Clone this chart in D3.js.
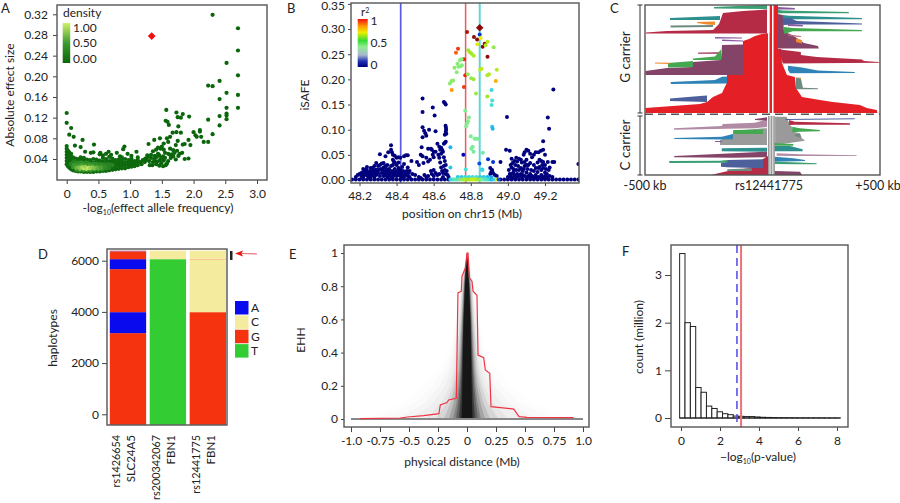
<!DOCTYPE html>
<html>
<head>
<meta charset="utf-8">
<script src="https://cdnjs.cloudflare.com/ajax/libs/d3/7.8.5/d3.min.js"></script>
<style>
html, body { margin: 0; padding: 0; background: #fff; overflow: hidden; }
text { font-family: Lato, sans-serif; fill: #222; }
</style>
</head>
<body>
<div id="chart-area"></div>
<script>
// ---- panel A: effect size vs allele frequency
var aTicksX = [0, 0.5, 1.0, 1.5, 2.0, 2.5, 3.0];
var aTicksY = [0.04, 0.08, 0.12, 0.16, 0.20, 0.24, 0.28, 0.32];
var aOutlier = [1.34, 0.278];
var aSparse = [[2.30,.319],[2.70,.293],[2.70,.25],[2.52,.226],[2.70,.202],[2.41,.191],[2.23,.182],[2.30,.181],[2.52,.168],[2.70,.164],[2.41,.156],[2.52,.139],[2.70,.139],[2.52,.128],[2.52,.124],[2.52,.117],[2.41,.123],[2.23,.116],[2.41,.105],[2.30,.088],
[1.57,.135],[1.56,.114],[1.59,.112],[1.61,.106],[1.73,.13],[1.93,.122],[1.83,.127],[1.75,.121],[1.80,.12],[1.76,.103],[1.73,.092],[1.67,.091],[1.63,.083],[1.58,.08],[1.80,.091],[2.0,.092],[2.1,.096],[2.1,.093],[2.03,.086],[2.05,.083],[2.12,.083],[2.16,.073],[2.23,.073],[1.92,.077],[1.86,.069],[1.83,.068],[1.95,.067],[1.75,.075],[1.72,.067],[1.68,.057],[1.63,.06],[1.60,.073],[1.53,.07],[1.47,.08],[1.38,.077],[1.29,.069],[1.72,.039],[1.86,.04],[1.92,.041],
[1.50,.064],[1.48,.06],[1.44,.062],[1.41,.058],[1.36,.055],[1.55,.052],[1.60,.05],[1.66,.049],[1.70,.052],[1.74,.056],[1.78,.05],[1.52,.045],[1.46,.047],[1.42,.044],[1.33,.048],[1.28,.044],[1.24,.041],[1.38,.04],[1.47,.038],[1.53,.037],[1.60,.036],[1.64,.042],[1.30,.036],[1.36,.034],[1.41,.03],[1.46,.027],[1.52,.026],[1.58,.031],[1.35,.028],[1.43,.035],[1.20,.038],[1.16,.034],[1.10,.054],
[1.18,.03],[1.23,.034],[1.26,.038],[1.33,.042],[1.39,.046],[1.44,.05],[1.49,.042],[1.55,.042],[1.40,.036],[1.49,.032],[1.27,.047],[1.31,.028],[1.56,.028],[1.63,.048],[1.68,.045],[1.76,.046],[1.82,.052],[1.53,.058],
[0,.129],[0,.11],[.07,.10],[.04,.087],[.11,.083],[.25,.077],[.22,.063],[.43,.068],[.91,.064],[.89,.059],[.79,.052],[.66,.054],[.62,.05],[.53,.052],[.42,.053],[.38,.052],[.29,.054],[.13,.066],[.52,.049],[.57,.047],[.70,.048],[.84,.045],[.96,.05],[1.02,.046]];
var aBandX = [0,.02,.04,.07,.10,.14,.18,.22,.27,.32,.37,.42,.47,.52,.57,.62,.67,.72,.77,.82,.87,.92,.97,1.02,1.07,1.12];
var aBandY = [
[.030,.036,.042,.048,.054,.060,.065],[.026,.032,.038,.044,.050,.056],[.023,.029,.035,.041,.047,.053],[.020,.026,.032,.038,.044,.050],[.018,.024,.030,.036,.043],[.017,.023,.029,.035,.041],[.016,.022,.028,.034,.040],[.016,.022,.028,.034,.040,.043],[.015,.021,.027,.033,.039,.042],[.015,.021,.027,.033,.039],[.015,.021,.027,.033,.038],[.015,.021,.027,.033,.040],[.016,.022,.028,.034,.039],[.016,.022,.028,.034,.037],[.017,.023,.029,.035,.042],[.017,.023,.029,.035,.040],[.018,.024,.030,.036,.044],[.019,.025,.031,.037,.041],[.020,.026,.032,.038],[.021,.027,.033,.039],[.022,.027,.032,.037,.043],[.022,.028,.033,.040],[.024,.029,.034,.038],[.025,.030,.035,.041],[.026,.031,.036],[.028,.033,.038,.043]];
var aMidPoints = [[.06,.030,.3],[.09,.033,.3],[.12,.030,.4],[.12,.036,.25],[.17,.033,.35],[.22,.033,.4],[.27,.032,.4],[.31,.033,.35],[.36,.031,.4],[.42,.031,.4],[.47,.031,.35],[.53,.030,.35],[.58,.029,.35],[.63,.029,.3],[.67,.029,.3],[.72,.028,.3],[.10,.024,.45],[.15,.019,.4],[.20,.018,.4],[.26,.018,.45],[.32,.018,.45],[.38,.018,.45],[.44,.019,.4],[.50,.019,.4],[.56,.020,.4],[.62,.022,.35],[.67,.023,.3],[.12,.028,.5],[.18,.028,.5],[.24,.028,.55],[.30,.028,.5],[.36,.027,.55],[.42,.027,.5],[.48,.026,.5],[.54,.026,.45],[.60,.025,.4]];
var aLightPoints = [[.15,.023,.65],[.19,.024,.7],[.21,.021,.75],[.24,.024,.85],[.27,.022,.95],[.29,.025,.8],[.31,.021,.9],[.34,.023,.95],[.37,.022,.85],[.40,.024,.8],[.43,.022,.75],[.46,.023,.7],[.50,.022,.6],[.54,.023,.55]];
var aDensityTicks = [[1, "1.00"], [0.5, "0.50"], [0, "0.00"]];

// ---- panel B: iSAFE along chr15
var bTicksX = [48.2, 48.4, 48.6, 48.8, 49.0, 49.2];
var bTicksY = [0, 0.05, 0.10, 0.15, 0.20, 0.25, 0.30, 0.35];
var bVLines = [[48.422, "#5a5ae6", 1.7], [48.772, "#f05a5a", 1.5], [48.848, "#62d6d6", 2]];
var bLead = [48.848, 0.3026];
// [position, iSAFE, r2]
var bLinked = [[48.78,.294,.98],[48.848,.289,.1],[48.817,.284,1],[48.834,.279,1],[48.875,.271,1],[48.864,.265,1],[48.89,.245,1],[48.731,.261,.93],[48.72,.253,.9],[48.763,.24,.95],[48.77,.208,.95],[48.763,.185,.93],[48.697,.179,.85],[48.935,.197,.82],[48.853,.282,.72],[48.835,.27,.68],[48.89,.275,.6],[48.88,.268,.6],[48.923,.264,.5],
[48.75,.24,.45],[48.741,.238,.45],[48.728,.231,.45],[48.712,.223,.48],[48.733,.225,.45],[48.745,.226,.45],[48.752,.228,.45],[48.724,.214,.45],[48.705,.198,.47],[48.687,.192,.47],[48.696,.197,.47],[48.786,.258,.55],[48.795,.254,.55],[48.804,.251,.55],[48.816,.247,.58],[48.85,.219,.62],[48.858,.221,.62],[48.889,.208,.58],[48.898,.21,.58],[48.94,.219,.6],[48.784,.21,.5],[48.802,.202,.5],[48.815,.2,.55],[48.828,.172,.52],[48.889,.166,.55],[48.912,.179,.24],[48.915,.158,.25],[48.912,.149,.25],[48.915,.106,.22],[48.918,.102,.2],[48.77,.138,.42],[48.79,.124,.42],[48.785,.117,.44],[48.78,.113,.42],[48.775,.107,.42],[48.8,.087,.4],[48.82,.082,.42],[48.83,.082,.42],[48.84,.082,.4],[48.81,.066,.4],[48.803,.062,.4],[48.815,.056,.4],[48.865,.054,.38],
[48.69,.065,.2],[48.69,.025,.22],[48.773,.021,.25],[48.861,.021,.22],[48.863,.02,.24],[48.846,.033,.12],[48.893,.041,.1],[48.92,.036,.1],[48.76,.05,.06]];
// [position, iSAFE], all close to r2 = 0
var bUnlinked = [[48.54,.162],[48.54,.135],[48.595,.144],[48.605,.128],[48.655,.155],[48.66,.153],[48.665,.15],[48.54,.105],[48.555,.093],[48.54,.085],[48.575,.1],[48.61,.097],[48.664,.108],[48.666,.104],[48.667,.1],[48.665,.096],[48.668,.092],[48.66,.09],[48.548,.098],[48.56,.088],
[48.535,.065],[48.53,.05],[48.57,.062],[48.585,.062],[48.59,.06],[48.635,.06],[48.65,.056],[48.625,.05],[48.6,.045],[48.58,.04],[48.57,.037],[48.66,.074],[48.665,.076],[48.655,.072],[48.63,.044],[48.635,.035],[48.64,.025],[48.655,.028],[48.6,.02],[48.585,.018],[48.56,.044],[48.54,.047],[48.545,.034],[48.62,.072],[48.63,.066],[48.64,.064],[48.645,.06],[48.655,.045],[48.66,.038],[48.665,.03],[48.64,.052],[48.61,.056],[48.6,.056],[48.595,.05],[48.65,.014],[48.665,.012],[48.63,.012],[48.62,.01],[48.6,.008],[48.57,.008],[48.55,.01],[48.52,.006],[48.67,.018],[48.675,.01],[48.66,.02],[48.645,.018],[48.61,.014],[48.59,.012],[48.56,.006],[48.53,.004],[48.65,.006],[48.68,.006],
[48.37,.069],[48.31,.051],[48.34,.047],[48.355,.055],[48.37,.06],[48.375,.055],[48.38,.05],[48.39,.048],[48.40,.044],[48.41,.045],[48.42,.044],[48.44,.047],[48.45,.049],[48.46,.049],[48.38,.04],[48.385,.037],[48.39,.035],[48.48,.038],[48.51,.036],[48.52,.03],[48.44,.032],[48.46,.025],[48.47,.018],[48.485,.012],[48.50,.01],
[48.2,.012],[48.21,.008],[48.22,.016],[48.23,.02],[48.24,.026],[48.25,.012],[48.26,.006],[48.26,.018],[48.27,.024],[48.28,.014],[48.29,.02],[48.30,.028],[48.31,.03],[48.32,.033],[48.33,.025],[48.34,.018],[48.35,.012],[48.36,.022],[48.37,.028],[48.38,.012],[48.39,.022],[48.40,.016],[48.41,.024],[48.42,.02],[48.43,.01],[48.44,.016],[48.45,.012],[48.46,.008],[48.47,.006],[48.18,.006],[48.19,.01],[48.22,.006],[48.23,.01],[48.24,.014],[48.25,.006],[48.27,.01],[48.28,.006],[48.29,.01],[48.30,.014],[48.31,.008],[48.32,.014],[48.33,.008],[48.34,.01],[48.35,.006],[48.36,.01],[48.37,.006],[48.38,.006],[48.39,.01],[48.40,.008],[48.41,.01],[48.42,.008],[48.43,.004],[48.44,.006],[48.24,.02],[48.21,.014],[48.28,.028],[48.29,.034],[48.34,.028],[48.33,.034],
[48.215,.004],[48.225,.012],[48.235,.016],[48.245,.008],[48.255,.016],[48.265,.012],[48.275,.018],[48.285,.02],[48.295,.014],[48.305,.02],[48.315,.022],[48.325,.02],[48.335,.014],[48.345,.022],[48.355,.018],[48.365,.014],[48.375,.018],[48.385,.016],[48.395,.012],[48.405,.018],[48.415,.014],[48.425,.014],[48.435,.018],[48.445,.01],[48.455,.018],[48.465,.014],[48.35,.03],[48.38,.03],[48.40,.03],[48.41,.035],[48.43,.026],[48.3,.02],[48.26,.024],[48.22,.022],
[49.245,.18],[48.995,.125],[49.215,.124],[49.222,.102],[49.19,.077],[49.19,.06],[49.178,.058],[49.165,.055],[49.15,.055],[49.14,.05],[49.2,.05],[49.1,.06],[49.11,.058],[49.09,.055],[49.12,.052],[49.13,.045],[49.085,.05],[48.99,.06],[49.01,.058],[49.02,.042],[49.035,.038],[49.05,.037],[49.06,.042],[49.07,.04],[49.075,.035],[49.09,.036],[49.1,.04],[49.11,.03],[49.14,.03],[49.16,.035],[49.17,.04],[49.18,.038],[49.19,.036],[49.2,.03],[49.215,.036],[49.24,.036],[49.25,.036],[49.015,.03],[49.02,.025],[49.03,.022],[49.04,.03],[49.055,.028],[49.06,.02],[49.07,.024],[49.085,.022],[49.09,.028],[49.1,.015],[49.12,.012],[49.14,.018],[49.15,.024],[49.16,.016],[49.17,.026],[49.18,.02],[49.19,.024],[49.2,.015],[49.21,.012],[49.22,.02],[49.005,.02],[49.01,.012],[49.02,.012],[49.035,.01],[49.05,.012],[49.07,.012],[49.08,.01],[49.11,.008],[49.13,.008],[49.15,.01],[49.18,.01],[49.2,.008],[49.225,.008],[49.24,.006],[48.905,.012],[48.91,.016],[48.915,.02],[48.92,.014],[48.94,.008],[48.96,.036],[48.905,.024],[48.93,.01],[49.38,.032],
[49.0,.006],[49.015,.006],[49.03,.005],[49.045,.006],[49.06,.008],[49.075,.006],[49.09,.008],[49.105,.006],[49.12,.006],[49.135,.006],[49.15,.005],[49.165,.006],[49.18,.005],[49.195,.005],[49.21,.005],[49.03,.016],[49.045,.02],[49.08,.018],[49.105,.022],[49.125,.02],[49.165,.024],[49.205,.022],[49.225,.025],[49.025,.034],[49.045,.044],[49.1,.03],[49.12,.034],[49.185,.03]];
var bBaseline = [48.16,48.18,48.2,48.22,48.24,48.26,48.28,48.3,48.32,48.34,48.36,48.38,48.4,48.42,48.44,48.46,48.48,48.5,48.52,48.54,48.56,48.58,48.6,48.62,48.64,48.66,48.68,48.96,48.98,49.0,49.02,49.04,49.06,49.08,49.1,49.12,49.14,49.16,49.18,49.2,49.22,49.24,49.26,49.28,49.3,49.32,49.34,49.36,49.38];
var bStripX = [48.69,48.70,48.71,48.72,48.73,48.74,48.75,48.76,48.77,48.78,48.79,48.80,48.81,48.82,48.83,48.84,48.85,48.86,48.87,48.88,48.89,48.90,48.91,48.92,48.93,48.94,48.95];
var bStripR = [.22,.25,.3,.35,.3,.4,.5,.5,.6,.55,.55,.6,.65,.65,.6,.55,.5,.42,.38,.3,.28,.25,.2,.22,.24,.7,.12];
var bStripTopX = [48.73,48.75,48.77,48.79,48.81,48.83,48.85,48.87,48.89,48.91];
var bStripTopR = [.22,.22,.24,.24,.25,.25,.22,.22,.2,.18];
var bLegendStops = [[0,"#00007f"],[.12,"#2030b0"],[.25,"#a8b8d0"],[.42,"#90ec90"],[.55,"#33dd33"],[.72,"#eeee00"],[.85,"#ff9a00"],[1,"#ee1111"]];
var bLegendTicks = [[1, "1"], [0.5, "0.5"], [0, "0"]];

// ---- panel C: haplotype bifurcation, vertices are [kb from rs12441775, haplotype rank]
var cRed = "#e41f26", cCrimson = "#b52b45", cPlum = "#844468", cTeal = "#2e8f8f", cGreen = "#44a851", cSea = "#3a9f72", cBlue = "#2f83b6", cSlate = "#4e609c", cOrange = "#f28a2c", cPurple = "#8a5aa0", cGrey = "#9a9a9a", cMauve = "#b18ba5", cMoss = "#6f8a80", cRose = "#b5647c";
var cCarrierSplit = 109.3;
var cShapes = [
[cRed,[[0,28],[-32,29],[-60,31],[-84,34],[-108,36],[-109,70],[-172,70],[-173,78],[-192,88],[-228,92],[-252,97],[-280,99],[-498,103],[-498,108],[0,108]]],
[cRed,[[0,0],[36,0],[36,44],[50,44],[54,58],[76,70],[112,72],[117,83],[144,92],[225,95],[283,97],[405,100],[436,103],[481,105],[484,108],[0,108]]],
[cCrimson,[[-12,4.5],[-108,6],[-188,8],[-204,19],[-228,25],[-412,26],[-496,27.5],[-496,28.5],[-12,28.5]]],
[cSea,[[-224,2],[-84,.5],[-12,0],[-12,4],[-224,3.5]]],
[cTeal,[[-400,13],[-200,11],[-200,15],[-400,15]]],
[cMoss,[[-398,20.5],[-228,20],[-228,22],[-398,22.5]]],
[cOrange,[[-292,17],[-220,16.5],[-220,20],[-252,19.5],[-292,18]]],
[cPlum,[[-108,39.5],[-192,40],[-196,55],[-308,57],[-308,62],[-412,63],[-498,66],[-498,70],[-108,70]]],
[cPurple,[[-220,32],[-112,32.5],[-112,33.5],[-220,33.5]]],
[cPurple,[[-192,34.5],[-108,35.5],[-108,36.5],[-192,36]]],
[cRose,[[-288,47.5],[-200,47],[-200,49],[-288,49]]],
[cGreen,[[-308,53.5],[-220,51.5],[-196,44.5],[-196,55],[-308,55]]],
[cGreen,[[-408,58],[-308,56],[-308,62],[-408,62.5]]],
[cOrange,[[-460,57.5],[-404,57.7],[-404,59],[-460,58.5]]],
[cBlue,[[-397,77],[-220,75],[-192,71.7],[-172,71.5],[-172,78.5],[-397,79]]],
[cSlate,[[-400,93.5],[-280,91],[-252,90.5],[-252,97],[-400,96]]],
[cPurple,[[36,2],[112,3],[112,4.5],[36,4.5]]],
[cSea,[[36,4.5],[54,5.5],[355,7],[355,8.3],[36,8.3]]],
[cPlum,[[36,9],[58,10],[63,27],[90,29],[121,33],[153,38],[216,41],[220,43.5],[36,43.5]]],
[cTeal,[[58,10],[85,10.7],[414,13],[414,14.3],[85,14.3],[58,13]]],
[cSlate,[[58,13],[90,13],[121,16],[414,18.5],[414,19.5],[121,19.5],[58,20]]],
[cPurple,[[81,19],[148,20],[148,21.5],[81,21]]],
[cGreen,[[63,22],[103,23],[414,25],[414,26.3],[103,26.3],[63,29]]],
[cRose,[[81,29.5],[139,31],[139,32],[81,31]]],
[cOrange,[[117,33.5],[144,35],[144,38.5],[117,37]]],
[cCrimson,[[36,44],[63,45],[139,47],[139,50],[211,52],[414,54.5],[423,56],[490,57],[495,57.7],[58,58.5]]],
[cBlue,[[81,60.7],[144,62.5],[216,65.5],[382,67],[382,68],[90,68.3],[81,65]]],
[cMoss,[[117,72.5],[139,73],[148,82.7],[216,83.3],[216,84.3],[117,84.3]]],
[cOrange,[[126,72.7],[139,72.7],[139,74.5]]],
[cGrey,[[-12,112],[-12,140],[-200,140],[-200,135],[-148,130],[-148,126],[-12,123]]],
[cMauve,[[-384,123.3],[-193,121],[-189,119],[-60,117.7],[-12,114.3],[-12,122],[-60,123.3],[-384,124.7]]],
[cGreen,[[-147,125],[-28,124.5],[-28,129],[-147,129]]],
[cBlue,[[-383,133],[-193,131.7],[-148,129],[-148,134.3],[-196,134.5],[-383,134]]],
[cPurple,[[-220,136],[-191,136],[-191,137],[-220,137]]],
[cPlum,[[-60,114],[-12,112.3],[-12,115.6],[-60,115]]],
[cTeal,[[-193,143.3],[-12,142.7],[-12,146.7],[-193,146.3]]],
[cPlum,[[-383,151],[-147,148.3],[-12,146.7],[-12,152.3],[-148,152.7],[-383,152.3]]],
[cSea,[[-403,156],[-200,155.7],[-171,155],[-171,157.7],[-403,158]]],
[cCrimson,[[-237,170],[-168,166],[-80,163],[-28,154],[-8,151],[-8,170]]],
[cSlate,[[-171,155],[-27,154.3],[-27,163.3],[-171,162.3],[-196,161.7],[-196,158],[-172,157.3]]],
[cMoss,[[-171,164.3],[-73,163.3],[-73,166],[-171,166]]],
[cGrey,[[23,111.7],[75,111.7],[90,120],[99,122],[104,126.7],[135,128.3],[143,133],[158,135.7],[23,140]]],
[cSlate,[[68,114],[382,113.3],[382,114.3],[72,115]]],
[cCrimson,[[86,115],[112,116.7],[360,118.3],[360,119.7],[112,119.7],[86,120]]],
[cGreen,[[100,121.7],[135,123.3],[225,125],[225,126.3],[135,126.7],[100,127.3]]],
[cMoss,[[112,129],[135,129],[140,132.7],[112,131]]],
[cGreen,[[15,137.3],[30,138.3],[105,139],[105,140.7],[15,140.7]]],
[cTeal,[[18,141],[90,141],[147,144.3],[147,146.3],[18,146.3]]],
[cMauve,[[30,148.3],[135,149.3],[390,150.3],[390,151],[135,151],[30,150.7]]],
[cBlue,[[20,151.7],[104,153.3],[158,155],[158,156],[20,156.7]]],
[cSea,[[20,156.7],[104,157.3],[210,158.3],[210,159.3],[104,159.3],[20,159]]],
[cPlum,[[15,161.7],[22,166],[135,166.7],[145,170],[15,170]]],
[cCrimson,[[15,166],[15,170],[0,170],[0,166]]]
];
// centre stripes: [kb from, kb to, rank from, rank to, colour]
var cCentre = [[-2,9,0,108,cRed],[-8,-2,0,108,"#fff"],[9,16,0,108,"#fff"],[-8,22,111,170,cGrey],[-2,3,111,170,"#e6e6e6"],[10,15,111,170,"#e6e6e6"]];

// ---- panel D: allele composition
var dTicks = [0, 2000, 4000, 6000];
var dFloor = -410;
var dBars = [
  ["rs1426654", "SLC24A5", [["G",3170],["A",3990],["G",5670],["A",6060],["G",6360],["X",6390]]],
  ["rs200342067", "FBN1", [["T",6060],["C",6390]]],
  ["rs12441775", "FBN1", [["G",3990],["C",6030],["Y",6075],["C",6390]]]
];
var dAlleles = ["A", "C", "G", "T"];
var dColours = {A:"#0a0aee", C:"#f5eb9e", G:"#f5330f", T:"#33cc33", X:"#a03a70", Y:"#f8c088"};

// ---- panel E: EHH decay
var eTicksX = [-1, -0.75, -0.5, -0.25, 0, 0.25, 0.5, 0.75, 1];
var eTickLabels = ["-1.0", "-0.75", "-0.5", "0.25", "0", "0.25", "0.5", "0.75", "1.0"];
var eTicksY = [0, 0.2, 0.4, 0.6, 0.8, 1];
var eRed = [[-.92,.002],[-.575,.006],[-.512,.012],[-.374,.02],[-.288,.028],[-.242,.032],[-.23,.085],[-.173,.099],[-.158,.115],[-.092,.125],[-.086,.397],[-.078,.76],[-.049,.77],[-.043,.86],[-.014,.91],[0,1],[.009,1],[.02,.85],[.043,.83],[.052,.77],[.086,.745],[.095,.385],[.144,.37],[.158,.295],[.196,.275],[.207,.074],[.288,.068],[.403,.06],[.449,.014],[.518,.01],[.92,.008]];
var eLevels = [1, .9, .8, .6, .4, .3, .2, .1, .05, 0];
// half width (Mb) of each group of background SNP curves at eLevels, with its weight
var eHaze = [
  [.008,[0,.035,.06,.1,.16,.25,.38,.55,.72,.9]],
  [.012,[0,.03,.055,.09,.14,.2,.3,.45,.6,.8]],
  [.018,[0,.03,.05,.08,.12,.16,.24,.36,.48,.62]],
  [.025,[0,.03,.05,.075,.105,.135,.19,.29,.38,.5]],
  [.04,[0,.026,.045,.065,.09,.11,.15,.22,.29,.36]],
  [.07,[0,.022,.04,.06,.08,.095,.125,.175,.225,.27]],
  [.11,[0,.02,.035,.05,.07,.08,.105,.14,.17,.2]],
  [.16,[0,.018,.03,.045,.06,.07,.085,.115,.135,.155]],
  [.22,[0,.016,.026,.04,.052,.06,.072,.09,.105,.12]],
  [.3,[0,.014,.024,.035,.046,.052,.062,.075,.085,.095]],
  [.5,[0,.012,.02,.031,.04,.044,.05,.058,.064,.07]],
  [.88,[0,.008,.017,.029,.035,.037,.04,.043,.045,.047]]
];

// ---- panel F: histogram of p-values
var fTicksX = [0, 2, 4, 6, 8];
var fTicksY = [0, 1, 2, 3];
var fBinStart = -0.07, fBinWidth = 0.275;
var fCounts = [3.45, 2.0, 1.92, 0.64, 0.54, 0.25, 0.2, 0.13, 0.09, 0.07, 0.04, 0.035, 0.03, 0.03, 0.022, 0.015, 0.012, 0.01, 0.008, 0.006, 0.005, 0.004, 0.003, 0.003, 0.002, 0.002, 0.002, 0.001, 0.001, 0.001];
var fTailEnd = 8.15;
var fDashed = 2.87, fSolid = 3.08;

var svg = d3.select("#chart-area").append("svg")
	.attr("width", 900)
	.attr("height", 503);
var defs = svg.append("defs");

var fs = 12;

function frame(x0, y0, x1, y1) {
	svg.append("rect")
		.attr("x", x0).attr("y", y0)
		.attr("width", x1 - x0).attr("height", y1 - y0)
		.attr("fill", "none")
		.attr("stroke", "#555")
		.attr("stroke-width", 1.4);
}

function axisStyle(g) {
	g.select(".domain").remove();
	g.selectAll("line").attr("stroke", "#444").attr("stroke-width", 1);
	g.selectAll("text").attr("font-size", fs).style("font-family", "Lato, sans-serif").style("fill", "#222");
}

function label(x, y, txt, opts) {
	opts = opts || {};
	var t = svg.append("text")
		.attr("font-size", opts.size || fs)
		.attr("text-anchor", opts.anchor || "middle");
	if (opts.rotate) {
		t.attr("transform", `translate(${x},${y}) rotate(-90)`);
	} else {
		t.attr("x", x).attr("y", y);
	}
	t.text(txt);
	return t;
}

[["A",1,12.5],["B",287,12.5],["C",610,12.5],["D",38,259],["E",289,259],["F",622,256]].forEach(d => {
	label(d[1], d[2], d[0], {size: 13, anchor: "start"});
});

// A
var ax = d3.scaleLinear().domain([0, 3]).range([66.7, 257]);
var ay = d3.scaleLinear().domain([0.04, 0.32]).range([159, 14.3]);
var density = d3.scaleLinear().domain([0, 0.5, 1]).range(["#0b660b", "#3c9a30", "#d0f06a"]);
var aGroup = svg.append("g");
var aDots = aSparse.map(d => [d[0], d[1], 0]);
aBandX.forEach((x, i) => aBandY[i].forEach(y => aDots.push([x, y, 0.04])));
aDots = aDots.concat(aMidPoints, aLightPoints);
aGroup.selectAll("circle").data(aDots).enter().append("circle")
	.attr("cx", d => ax(d[0]))
	.attr("cy", d => ay(d[1]))
	.attr("r", 2.1)
	.attr("fill", d => density(d[2]));
svg.append("path")
	.attr("d", d3.symbol().type(d3.symbolSquare).size(30))
	.attr("transform", `translate(${ax(aOutlier[0])},${ay(aOutlier[1])}) rotate(45)`)
	.attr("fill", "#f01010");
svg.append("g").attr("transform", "translate(0,180)")
	.call(d3.axisBottom(ax).tickValues(aTicksX).tickFormat(d => d === 0 ? "0" : d3.format(".1f")(d)).tickSize(4).tickPadding(5)).call(axisStyle);
svg.append("g").attr("transform", "translate(57,0)")
	.call(d3.axisLeft(ay).tickValues(aTicksY).tickFormat(d3.format(".2f")).tickSize(4).tickPadding(5)).call(axisStyle);
frame(57, 5, 267, 180);
label(14, 95, "Absolute effect size", {rotate: true, size: 12});
var aTitle = label(158, 212, "-log", {size: 12});
aTitle.append("tspan").attr("font-size", 7).attr("dy", 3).text("10");
aTitle.append("tspan").attr("dy", -3).text("(effect allele frequency)");
label(63, 17, "density", {anchor: "start", size: 12});
var aGrad = defs.append("linearGradient").attr("id", "gradA").attr("x1", 0).attr("x2", 0).attr("y1", 0).attr("y2", 1);
[[0, 1], [0.5, 0.5], [1, 0]].forEach(d => aGrad.append("stop").attr("offset", d[0]).attr("stop-color", density(d[1])));
svg.append("rect").attr("x", 62.7).attr("y", 23).attr("width", 7.5).attr("height", 40).attr("fill", "url(#gradA)");
var aLegY = d3.scaleLinear().domain([0, 1]).range([58, 27]);
aDensityTicks.forEach(d => {
	label(73, aLegY(d[0]) + 4.5, d[1], {anchor: "start", size: 12});
});

// B
var bx = d3.scaleLinear().domain([48.2, 49.2]).range([359.5, 545]);
var by = d3.scaleLinear().domain([0, 0.35]).range([180, 3.9]);
var r2Colour = d3.scaleLinear()
	.domain([0, .06, .12, .2, .25, .42, .55, .72, .85, .95, 1])
	.range(["#00007f", "#0000b0", "#0a50e0", "#20b4f0", "#40e0d8", "#80ee90", "#a0e830", "#eeee00", "#ff9a00", "#ee2211", "#8b0a0a"])
	.clamp(true);
var bClip = defs.append("clipPath").attr("id", "clipB");
bClip.append("rect").attr("x", 351).attr("y", 3).attr("width", 228).attr("height", 180);
var bGroup = svg.append("g").attr("clip-path", "url(#clipB)");
bVLines.forEach(d => {
	bGroup.append("line")
		.attr("x1", bx(d[0])).attr("x2", bx(d[0]))
		.attr("y1", 3).attr("y2", 183)
		.attr("stroke", d[1]).attr("stroke-width", d[2]);
});
var bDots = bUnlinked.map(d => [d[0], d[1], 0]);
bBaseline.forEach(x => bDots.push([x, 0.001, 0]));
bDots = bDots.concat(bLinked);
bStripTopX.forEach((x, i) => bDots.push([x, 0.006, bStripTopR[i]]));
bStripX.forEach((x, i) => bDots.push([x, 0.001, bStripR[i]]));
bGroup.selectAll("circle").data(bDots).enter().append("circle")
	.attr("cx", d => bx(d[0]))
	.attr("cy", d => by(d[1]))
	.attr("r", 2)
	.attr("fill", d => r2Colour(d[2]));
bGroup.append("path")
	.attr("d", d3.symbol().type(d3.symbolSquare).size(28))
	.attr("transform", `translate(${bx(bLead[0])},${by(bLead[1])}) rotate(45)`)
	.attr("fill", "#8b0a0a");
svg.append("g").attr("transform", "translate(0,183)")
	.call(d3.axisBottom(bx).tickValues(bTicksX).tickFormat(d3.format(".1f")).tickSize(3).tickPadding(5)).call(axisStyle);
var bAxisY = svg.append("g").attr("transform", "translate(351,0)")
	.call(d3.axisLeft(by).tickValues(bTicksY).tickFormat(d3.format(".2f")).tickSize(3).tickPadding(3)).call(axisStyle);
// the top label would run off the page
bAxisY.selectAll(".tick text").filter(d => d === 0.35).attr("y", 2);
frame(351, 3, 579, 183);
label(309, 95, "iSAFE", {rotate: true, size: 12});
label(462, 218, "position on chr15 (Mb)", {size: 12});
var bGrad = defs.append("linearGradient").attr("id", "gradB").attr("x1", 0).attr("x2", 0).attr("y1", 1).attr("y2", 0);
bLegendStops.forEach(d => bGrad.append("stop").attr("offset", d[0]).attr("stop-color", d[1]));
svg.append("rect").attr("x", 357.7).attr("y", 19).attr("width", 10).attr("height", 48).attr("fill", "url(#gradB)");
var bLegY = d3.scaleLinear().domain([0, 1]).range([64, 20]);
bLegendTicks.forEach(d => label(370.5, bLegY(d[0]) + 4.5, d[1], {anchor: "start", size: 12}));
var r2Title = label(361, 16, "r", {anchor: "start", size: 11.5});
r2Title.append("tspan").attr("font-size", 7).attr("dy", -3).text("2");

// C
var cx = d3.scaleLinear().domain([-500, 0, 500]).range([645, 770, 881]);
var cy = d3.scaleLinear().domain([0, 170]).range([5, 175]);
var cLine = d3.line().x(d => cx(d[0])).y(d => cy(d[1]));
var cClip = defs.append("clipPath").attr("id", "clipC");
cClip.append("rect").attr("x", 645).attr("y", 5).attr("width", 235).attr("height", 170);
var cGroup = svg.append("g").attr("clip-path", "url(#clipC)");
cGroup.selectAll("path").data(cShapes).enter().append("path")
	.attr("d", d => cLine(d[1]) + "Z")
	.attr("fill", d => d[0]);
cCentre.forEach(d => {
	cGroup.append("rect")
		.attr("x", cx(d[0])).attr("width", cx(d[1]) - cx(d[0]))
		.attr("y", cy(d[2])).attr("height", cy(d[3]) - cy(d[2]))
		.attr("fill", d[4]);
});
frame(645, 5, 880, 175);
svg.append("line")
	.attr("x1", cx(-500)).attr("x2", 880)
	.attr("y1", cy(cCarrierSplit)).attr("y2", cy(cCarrierSplit))
	.attr("stroke", "#555").attr("stroke-width", 1.4).attr("stroke-dasharray", "8,5");
[[0, 108], [111, 170]].forEach(d => {
	svg.append("path")
		.attr("d", `M637.5,${cy(d[0])}H642.5M640,${cy(d[0])}V${cy(d[1])}M637.5,${cy(d[1])}H642.5`)
		.attr("fill", "none").attr("stroke", "#333").attr("stroke-width", 1);
});
label(630, 57, "G carrier", {rotate: true, size: 13.5});
label(630, 145, "C carrier", {rotate: true, size: 13.5});
label(645, 190, "-500 kb", {size: 12.5});
label(769, 190, "rs12441775", {size: 12.5});
label(878, 190, "+500 kb", {size: 12.5, anchor: "middle"});

// D
var dx = d3.scaleBand().domain(dBars.map(d => d[0])).range([109.8, 226]).paddingInner(0.09);
var dy = d3.scaleLinear().domain([0, 6000]).range([414.3, 260.7]);
dBars.forEach(b => {
	var prev = dFloor;
	b[2].forEach(s => {
		svg.append("rect")
			.attr("x", dx(b[0])).attr("width", dx.bandwidth())
			.attr("y", dy(s[1])).attr("height", dy(prev) - dy(s[1]))
			.attr("fill", dColours[s[0]]);
		prev = s[1];
	});
	label(dx(b[0]) + 10, 435, b[0], {rotate: true, anchor: "end", size: 10.8});
	label(dx(b[0]) + 25, 435, b[1], {rotate: true, anchor: "end", size: 11.5});
});
svg.append("g").attr("transform", "translate(107,0)")
	.call(d3.axisLeft(dy).tickValues(dTicks).tickFormat(d3.format("d")).tickSize(5).tickPadding(3)).call(axisStyle);
frame(107, 249, 227, 425);
label(57, 338, "haplotypes", {rotate: true});
var dLegend = d3.scaleBand().domain(dAlleles).range([301, 358.5]);
dAlleles.forEach(a => {
	svg.append("rect")
		.attr("x", 235).attr("y", dLegend(a))
		.attr("width", 13.5).attr("height", 13.5)
		.attr("fill", dColours[a]);
	label(251, dLegend(a) + 11, a, {anchor: "start"});
});
svg.append("rect").attr("x", dx.range()[1] + 4).attr("y", dy(6380)).attr("width", 2.5).attr("height", dy(6030) - dy(6380)).attr("fill", "#222");
svg.append("path").attr("d", "M235,253.5L243,250.5L241.5,253.5L243,256.5Z").attr("fill", "#ee1111");
svg.append("line").attr("x1", 241).attr("x2", 257).attr("y1", 253.5).attr("y2", 254).attr("stroke", "#f06a7a").attr("stroke-width", 1.2);

// E
var ex = d3.scaleLinear().domain([-1, 1]).range([351, 583]);
var ey = d3.scaleLinear().domain([0, 1]).range([419, 253]);
eHaze.forEach(h => {
	var left = h[1].map((w, i) => [-w, eLevels[i]]);
	var right = h[1].map((w, i) => [w, eLevels[i]]).reverse();
	svg.append("path")
		.attr("d", d3.line().x(d => ex(d[0])).y(d => ey(d[1]))(left.concat(right)) + "Z")
		.attr("fill", "#111")
		.attr("fill-opacity", h[0]);
});
svg.append("line")
	.attr("x1", ex(-1)).attr("x2", ex(1))
	.attr("y1", ey(0)).attr("y2", ey(0))
	.attr("stroke", "#888").attr("stroke-width", 2);
svg.append("path")
	.attr("d", d3.line().x(d => ex(d[0])).y(d => ey(d[1]))(eRed))
	.attr("fill", "none").attr("stroke", "#ee3344").attr("stroke-width", 1.2);
svg.append("g").attr("transform", "translate(0,427)")
	.call(d3.axisBottom(ex).tickValues(eTicksX).tickFormat((d, i) => eTickLabels[i]).tickSize(5).tickPadding(4)).call(axisStyle);
svg.append("g").attr("transform", "translate(344,0)")
	.call(d3.axisLeft(ey).tickValues(eTicksY).tickFormat(d3.format("")).tickSize(3).tickPadding(3)).call(axisStyle);
frame(344, 245, 589, 427);
label(305, 340, "EHH", {rotate: true});
label(462, 466, "physical distance (Mb)", {size: 12});

// F
var fx = d3.scaleLinear().domain([0, 8]).range([681, 837]);
var fy = d3.scaleLinear().domain([0, 3]).range([418, 275]);
svg.append("g").selectAll("rect").data(fCounts).enter().append("rect")
	.attr("x", (d, i) => fx(fBinStart + i * fBinWidth))
	.attr("width", fx(fBinWidth) - fx(0))
	.attr("y", d => fy(d))
	.attr("height", d => fy(0) - fy(d))
	.attr("fill", "#fff")
	.attr("stroke", "#222")
	.attr("stroke-width", 1);
svg.append("line")
	.attr("x1", fx(fBinStart)).attr("x2", fx(fTailEnd))
	.attr("y1", fy(0)).attr("y2", fy(0))
	.attr("stroke", "#222").attr("stroke-width", 1.2);
svg.append("line").attr("x1", fx(fDashed)).attr("x2", fx(fDashed)).attr("y1", 245).attr("y2", 427)
	.attr("stroke", "#4a4ae8").attr("stroke-width", 1.5).attr("stroke-dasharray", "8,5");
svg.append("line").attr("x1", fx(fSolid)).attr("x2", fx(fSolid)).attr("y1", 245).attr("y2", 427)
	.attr("stroke", "#f07078").attr("stroke-width", 2);
svg.append("g").attr("transform", "translate(0,427)")
	.call(d3.axisBottom(fx).tickValues(fTicksX).tickSize(4).tickPadding(5)).call(axisStyle);
svg.append("g").attr("transform", "translate(671,0)")
	.call(d3.axisLeft(fy).tickValues(fTicksY).tickFormat(d3.format("d")).tickSize(6).tickPadding(3)).call(axisStyle);
frame(671, 245, 848, 427);
label(643, 337, "count (million)", {rotate: true});
var fTitle = label(758, 461, "−log");
fTitle.append("tspan").attr("font-size", 7).attr("dy", 3).text("10");
fTitle.append("tspan").attr("dy", -3).text("(p-value)");
</script>
</body>
</html>
